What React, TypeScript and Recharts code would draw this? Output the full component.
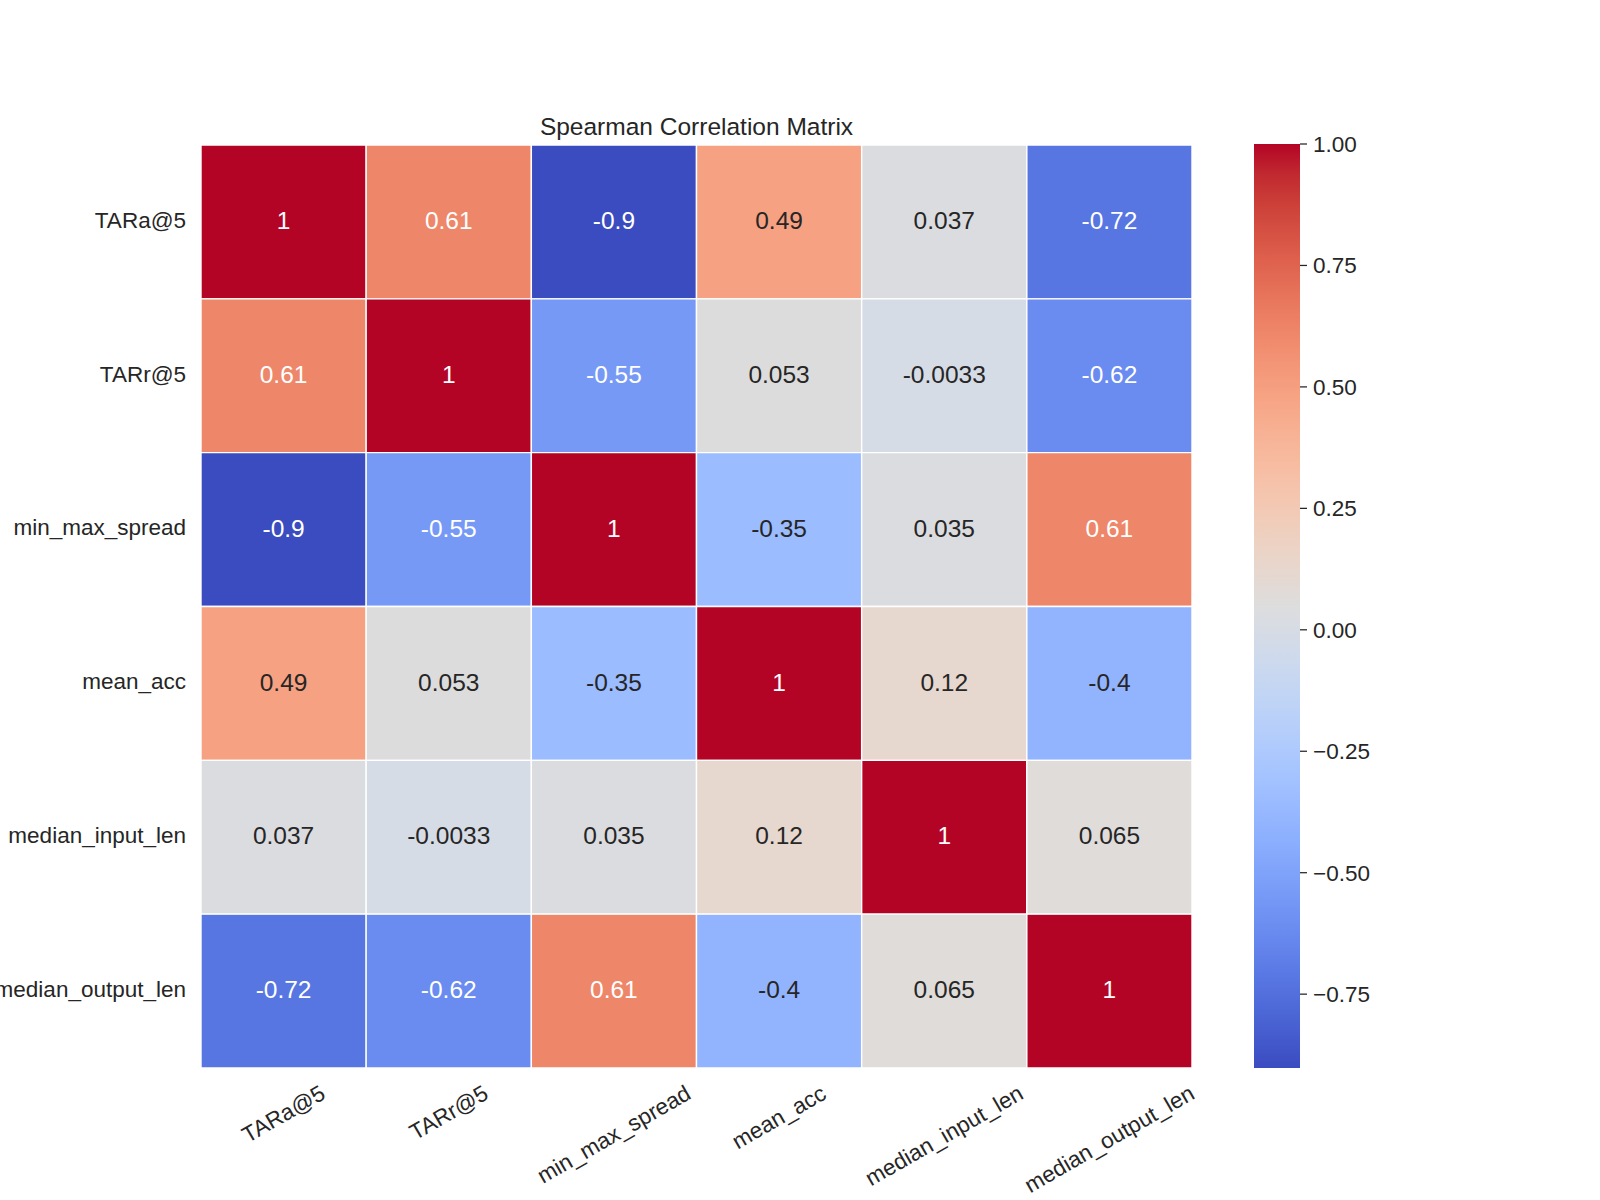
import React from "react";
import { ScatterChart, Scatter, XAxis, YAxis, ReferenceArea, BarChart, Bar } from "recharts";

const FONT = '"Liberation Sans", Arial, Helvetica, sans-serif';
const INK = "#262626";

// variables, in the order of rows and columns
const labels = ["TARa@5", "TARr@5", "min_max_spread", "mean_acc", "median_input_len", "median_output_len"];

// spearman correlations, one row per variable
const rowTARa = [1, 0.61, -0.902, 0.49, 0.037, -0.72];
const rowTARr = [0.61, 1, -0.55, 0.053, -0.0033, -0.62];
const rowSpread = [-0.902, -0.55, 1, -0.35, 0.035, 0.61];
const rowMeanAcc = [0.49, 0.053, -0.35, 1, 0.12, -0.4];
const rowInputLen = [0.037, -0.0033, 0.035, 0.12, 1, 0.065];
const rowOutputLen = [-0.72, -0.62, 0.61, -0.4, 0.065, 1];
const matrix = [rowTARa, rowTARr, rowSpread, rowMeanAcc, rowInputLen, rowOutputLen];

const cbarTicks = [-0.75, -0.5, -0.25, 0, 0.25, 0.5, 0.75, 1];
const cellTicks = [0.5, 1.5, 2.5, 3.5, 4.5, 5.5];

const vmin = Math.min(...matrix.flat());
const vmax = Math.max(...matrix.flat());

// matplotlib coolwarm
const COOLWARM: number[][] = [
  [0.2298057, 0.298717966, 0.753683153],
  [0.26623388, 0.353094838, 0.801466763],
  [0.30386891, 0.406535296, 0.84495867],
  [0.342804478, 0.458757618, 0.883725899],
  [0.38301334, 0.50941904, 0.917387822],
  [0.424369608, 0.558148092, 0.945619588],
  [0.46666708, 0.604562568, 0.968154911],
  [0.509635204, 0.648280772, 0.98478814],
  [0.552953156, 0.688929332, 0.995375608],
  [0.596262162, 0.726149107, 0.999836203],
  [0.639176211, 0.759599947, 0.998151185],
  [0.681291281, 0.788964712, 0.990363227],
  [0.722193294, 0.813952739, 0.976574709],
  [0.761464949, 0.834302879, 0.956945269],
  [0.798691636, 0.849786142, 0.931688648],
  [0.833466556, 0.860207984, 0.901068838],
  [0.865395197, 0.86541021, 0.865395561],
  [0.897787179, 0.848937047, 0.820880546],
  [0.924127593, 0.827384882, 0.774508472],
  [0.944468518, 0.800927443, 0.726736146],
  [0.958852946, 0.769767752, 0.678007945],
  [0.96732803, 0.734132809, 0.628751763],
  [0.969954137, 0.694266682, 0.579375448],
  [0.966811177, 0.650421156, 0.530263762],
  [0.958003065, 0.602842431, 0.481775914],
  [0.943660866, 0.551750968, 0.434243684],
  [0.923944917, 0.49730856, 0.387970225],
  [0.89904617, 0.439559467, 0.343229596],
  [0.869186849, 0.378313092, 0.300267182],
  [0.834620542, 0.312874446, 0.259301199],
  [0.795631745, 0.24128379, 0.220525627],
  [0.752534934, 0.157246067, 0.184115123],
  [0.705673158, 0.01555616, 0.150232812],
];

function cmap(t: number): number[] {
  const s = Math.max(0, Math.min(1, t)) * (COOLWARM.length - 1);
  const i = Math.min(Math.floor(s), COOLWARM.length - 2);
  const f = s - i;
  return COOLWARM[i].map((a, k) => a + (COOLWARM[i + 1][k] - a) * f);
}

function hex(rgb: number[]) {
  return "#" + rgb.map((v) => Math.round(v * 255).toString(16).padStart(2, "0")).join("");
}

function colorFor(v: number) {
  return cmap((v - vmin) / (vmax - vmin));
}

// same rule seaborn uses to pick annotation colour
function textColorFor(v: number) {
  const lin = colorFor(v).map((c) => (c <= 0.03928 ? c / 12.92 : Math.pow((c + 0.055) / 1.055, 2.4)));
  const lum = lin[0] * 0.2126 + lin[1] * 0.7152 + lin[2] * 0.0722;
  return lum > 0.408 ? INK : "#ffffff";
}

const cells = matrix.flatMap((row, r) => row.map((v, c) => ({ x: c + 0.5, y: r + 0.5, r, c, v })));

let measureCtx: CanvasRenderingContext2D | null = null;
function textWidth(s: string, size: number) {
  if (!measureCtx) measureCtx = document.createElement("canvas").getContext("2d");
  if (!measureCtx) return s.length * size * 0.55;
  measureCtx.font = `${size}px ${FONT}`;
  return measureCtx.measureText(s).width;
}

const TICK_SIZE = 22.5;

const XTick = (props: any) => {
  const { x, y, payload } = props;
  const label = labels[Math.floor(payload.value)];
  const w = textWidth(label, TICK_SIZE);
  const h = TICK_SIZE * 0.85;
  const boxH = w * 0.5 + h * 0.866;
  const cy = y + 15 + boxH / 2;
  return (
    <text
      x={x}
      y={cy}
      textAnchor="middle"
      dominantBaseline="central"
      transform={`rotate(-30, ${x}, ${cy})`}
      fill={INK}
      fontSize={TICK_SIZE}
      fontFamily={FONT}
    >
      {label}
    </text>
  );
};

const YTick = (props: any) => {
  const { x, y, payload } = props;
  return (
    <text x={x} y={y} dy="0.26em" textAnchor="end" fill={INK} fontSize={TICK_SIZE} fontFamily={FONT}>
      {labels[Math.floor(payload.value)]}
    </text>
  );
};

const Annotation = (props: any) => {
  const { cx, cy, payload } = props;
  const v = payload.v as number;
  return (
    <text
      x={cx}
      y={cy}
      dy="0.29em"
      textAnchor="middle"
      fill={textColorFor(v)}
      fontSize={24.5}
      fontFamily={FONT}
    >
      {String(Number(v.toPrecision(2)))}
    </text>
  );
};

const fmtCbar = (v: number) => (v < 0 ? "\u2212" : "") + Math.abs(v).toFixed(2);

export default function App() {
  return (
    <div style={{ position: "absolute", left: 0, top: 0, width: 1600, height: 1200, background: "#fff", fontFamily: FONT }}>
      <div style={{ position: "absolute", left: 0, top: 0 }}>
        <ScatterChart width={1200} height={1200} margin={{ top: 145, right: 8, bottom: 12, left: 6 }}>
          <XAxis
            type="number"
            dataKey="x"
            domain={[0, 6]}
            ticks={cellTicks}
            interval={0}
            tick={<XTick />}
            tickLine={false}
            axisLine={false}
            tickSize={0}
            tickMargin={0}
            height={120}
          />
          <YAxis
            type="number"
            dataKey="y"
            domain={[0, 6]}
            reversed
            ticks={cellTicks}
            interval={0}
            tick={<YTick />}
            tickLine={false}
            axisLine={false}
            tickSize={0}
            tickMargin={15}
            width={195}
          />
          {cells.map((d) => (
            <ReferenceArea
              key={`${d.r}-${d.c}`}
              x1={d.c}
              x2={d.c + 1}
              y1={d.r}
              y2={d.r + 1}
              fill={hex(colorFor(d.v))}
              fillOpacity={1}
              stroke="#ffffff"
              strokeWidth={1.4}
              ifOverflow="visible"
            />
          ))}
          <Scatter data={cells} shape={<Annotation />} isAnimationActive={false} />
        </ScatterChart>
      </div>

      <div style={{ position: "absolute", left: 1250, top: 0 }}>
        <BarChart
          width={200}
          height={1200}
          data={[{ name: "cbar", span: [vmin, vmax] }]}
          margin={{ top: 144, right: 0, bottom: 132, left: 4 }}
          barCategoryGap={0}
        >
          <defs>
            <linearGradient id="cbGrad" x1="0" y1="1" x2="0" y2="0">
              {COOLWARM.map((c, i) => (
                <stop key={i} offset={i / (COOLWARM.length - 1)} stopColor={hex(c)} />
              ))}
            </linearGradient>
          </defs>
          <XAxis dataKey="name" hide />
          <YAxis
            orientation="right"
            type="number"
            domain={[vmin, vmax]}
            allowDataOverflow
            ticks={cbarTicks}
            interval={0}
            tickFormatter={fmtCbar}
            axisLine={false}
            tickLine={{ stroke: INK, strokeWidth: 1.25 }}
            tickSize={7}
            tickMargin={6}
            tick={{ fill: INK, fontSize: TICK_SIZE, fontFamily: FONT }}
            width={150}
          />
          <Bar dataKey="span" fill="url(#cbGrad)" isAnimationActive={false} />
        </BarChart>
      </div>

      <svg width={1600} height={1200} style={{ position: "absolute", left: 0, top: 0, pointerEvents: "none" }}>
        <text x={696.5} y={135} textAnchor="middle" fill={INK} fontSize={24.5} fontFamily={FONT}>
          Spearman Correlation Matrix
        </text>
      </svg>
    </div>
  );
}
